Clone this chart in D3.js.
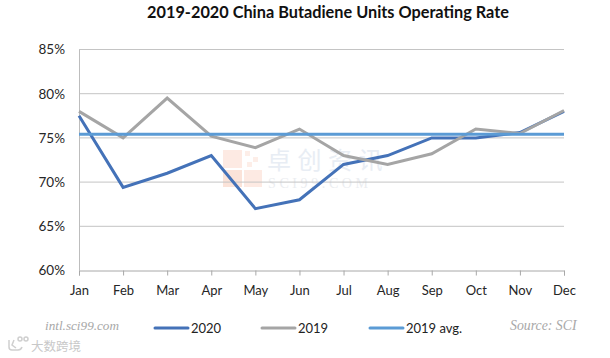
<!DOCTYPE html>
<html><head><meta charset="utf-8">
<script src="https://cdn.jsdelivr.net/npm/d3@7"></script>
<style>html,body{margin:0;padding:0;background:#fff}svg{display:block}text{font-family:Lato,"Open Sans",sans-serif}</style>
</head><body><svg id="c" width="610" height="358"></svg>
<script>
const months=["Jan","Feb","Mar","Apr","May","Jun","Jul","Aug","Sep","Oct","Nov","Dec"];
const values2020=[77.5,69.4,71,73,67,68,72,73,75,75,75.6,78];
const values2019=[78,75,79.5,75.2,73.9,76,73,72,73.2,76,75.5,78.1];
const avg2019=[75.4,75.4,75.4,75.4,75.4,75.4,75.4,75.4,75.4,75.4,75.4,75.4];
const yTicks=[60,65,70,75,80,85];
const title="2019-2020 China Butadiene Units Operating Rate";
const legendItems=[["2020","#4472b8"],["2019","#a5a5a5"],["2019 avg.","#5b9bd5"]];

const svg=d3.select("#c");
const x=d3.scalePoint().domain(months).range([79,564]);
const y=d3.scaleLinear().domain([60,85]).range([270.5,49.5]);

// watermark
const wm=svg.append("g");
[[223,150,19,18,"#fdeae3"],[223,170,19,17,"#fbe3d9"],[244,170,18,17,"#fdeae3"],[245,151,5,5,"#fdeee8"],[253,157,5,5,"#fdeee8"],[247,162,5,5,"#fdeee8"]]
 .forEach(r=>wm.append("rect").attr("x",r[0]).attr("y",r[1]).attr("width",r[2]).attr("height",r[3]).attr("fill",r[4]));
wm.append("text").attr("x",267).attr("y",168.5).attr("font-size",24).attr("fill","#e8edf4")
  .style("font-family","'Noto Sans CJK SC'").style("letter-spacing","6.5px").text("卓创资讯");
wm.append("text").attr("x",268).attr("y",188).attr("font-size",14).attr("fill","#ebedf0")
  .style("font-family","'Liberation Serif'").style("letter-spacing","3.6px").text("SCI99.COM");

// grid
const grid=svg.append("g");
grid.selectAll("line").data(yTicks.filter(d=>d>60)).join("line")
  .attr("x1",x.range()[0]).attr("x2",x.range()[1]).attr("y1",d=>y(d)).attr("y2",d=>y(d))
  .attr("stroke","#c4c4c4").attr("stroke-width",1);

// axes
const xAxis=svg.append("g").attr("transform",`translate(0,${y(60)})`)
  .call(d3.axisBottom(x).tickSize(5).tickPadding(10));
const yAxis=svg.append("g").attr("transform",`translate(${x.range()[0]},0)`)
  .call(d3.axisLeft(y).tickValues(yTicks).tickFormat(d=>d+"%").tickSize(0).tickPadding(14));
xAxis.selectAll("line").attr("stroke","#a8a8a8");
xAxis.select(".domain").attr("stroke","#a8a8a8");
yAxis.select(".domain").attr("stroke","#bdbdbd");
xAxis.selectAll("text").attr("font-size",13).attr("fill","#262626").style("font-family","Lato");
yAxis.selectAll("text").attr("font-size",13.5).attr("fill","#262626").style("font-family","Lato");

// series
const line=d3.line().x((d,i)=>x(months[i])).y(d=>y(d));
svg.append("path").datum(values2020).attr("d",line).attr("fill","none").attr("stroke",legendItems[0][1]).attr("stroke-width",3);
svg.append("path").datum(values2019).attr("d",line).attr("fill","none").attr("stroke",legendItems[1][1]).attr("stroke-width",3);
svg.append("path").datum(avg2019).attr("d",line).attr("fill","none").attr("stroke",legendItems[2][1]).attr("stroke-width",3);

// title
svg.append("text").attr("x",328).attr("y",18).attr("text-anchor","middle")
  .attr("font-size",16.3).attr("font-weight",700).attr("fill","#111").text(title);

// legend
const lx=[155,262,370], tx=[191,298,406];
legendItems.forEach((d,i)=>{
  svg.append("line").attr("x1",lx[i]).attr("x2",lx[i]+33).attr("y1",328).attr("y2",328)
    .attr("stroke",d[1]).attr("stroke-width",3).attr("stroke-linecap","round");
  svg.append("text").attr("x",tx[i]).attr("y",332.5).attr("font-size",13).attr("fill","#222").text(d[0]);
});

// source notes
svg.append("text").attr("x",45).attr("y",330).attr("font-size",13.2).attr("font-style","italic")
  .attr("fill","#a8a8a8").style("font-family","'Liberation Serif'").text("intl.sci99.com");
svg.append("text").attr("x",510).attr("y",330).attr("font-size",13.8).attr("font-style","italic")
  .attr("fill","#a8a8a8").style("font-family","'Liberation Serif'").text("Source: SCI");
svg.append("text").attr("x",31).attr("y",351).attr("font-size",12.5).attr("fill","#c8c8c8")
  .style("font-family","'Noto Sans CJK SC'").text("大数跨境");
const lg=svg.append("g").attr("fill","none").attr("stroke","#cfcfcf").attr("stroke-width",1.5);
lg.append("path").attr("d","M9 340 v7 q0 3 3 3 h6 q3 0 4 -3 M14 340 l-2 5 l4 3");
lg.append("circle").attr("cx",20).attr("cy",339).attr("r",2);
lg.append("circle").attr("cx",26).attr("cy",339).attr("r",2);
</script></body></html>
